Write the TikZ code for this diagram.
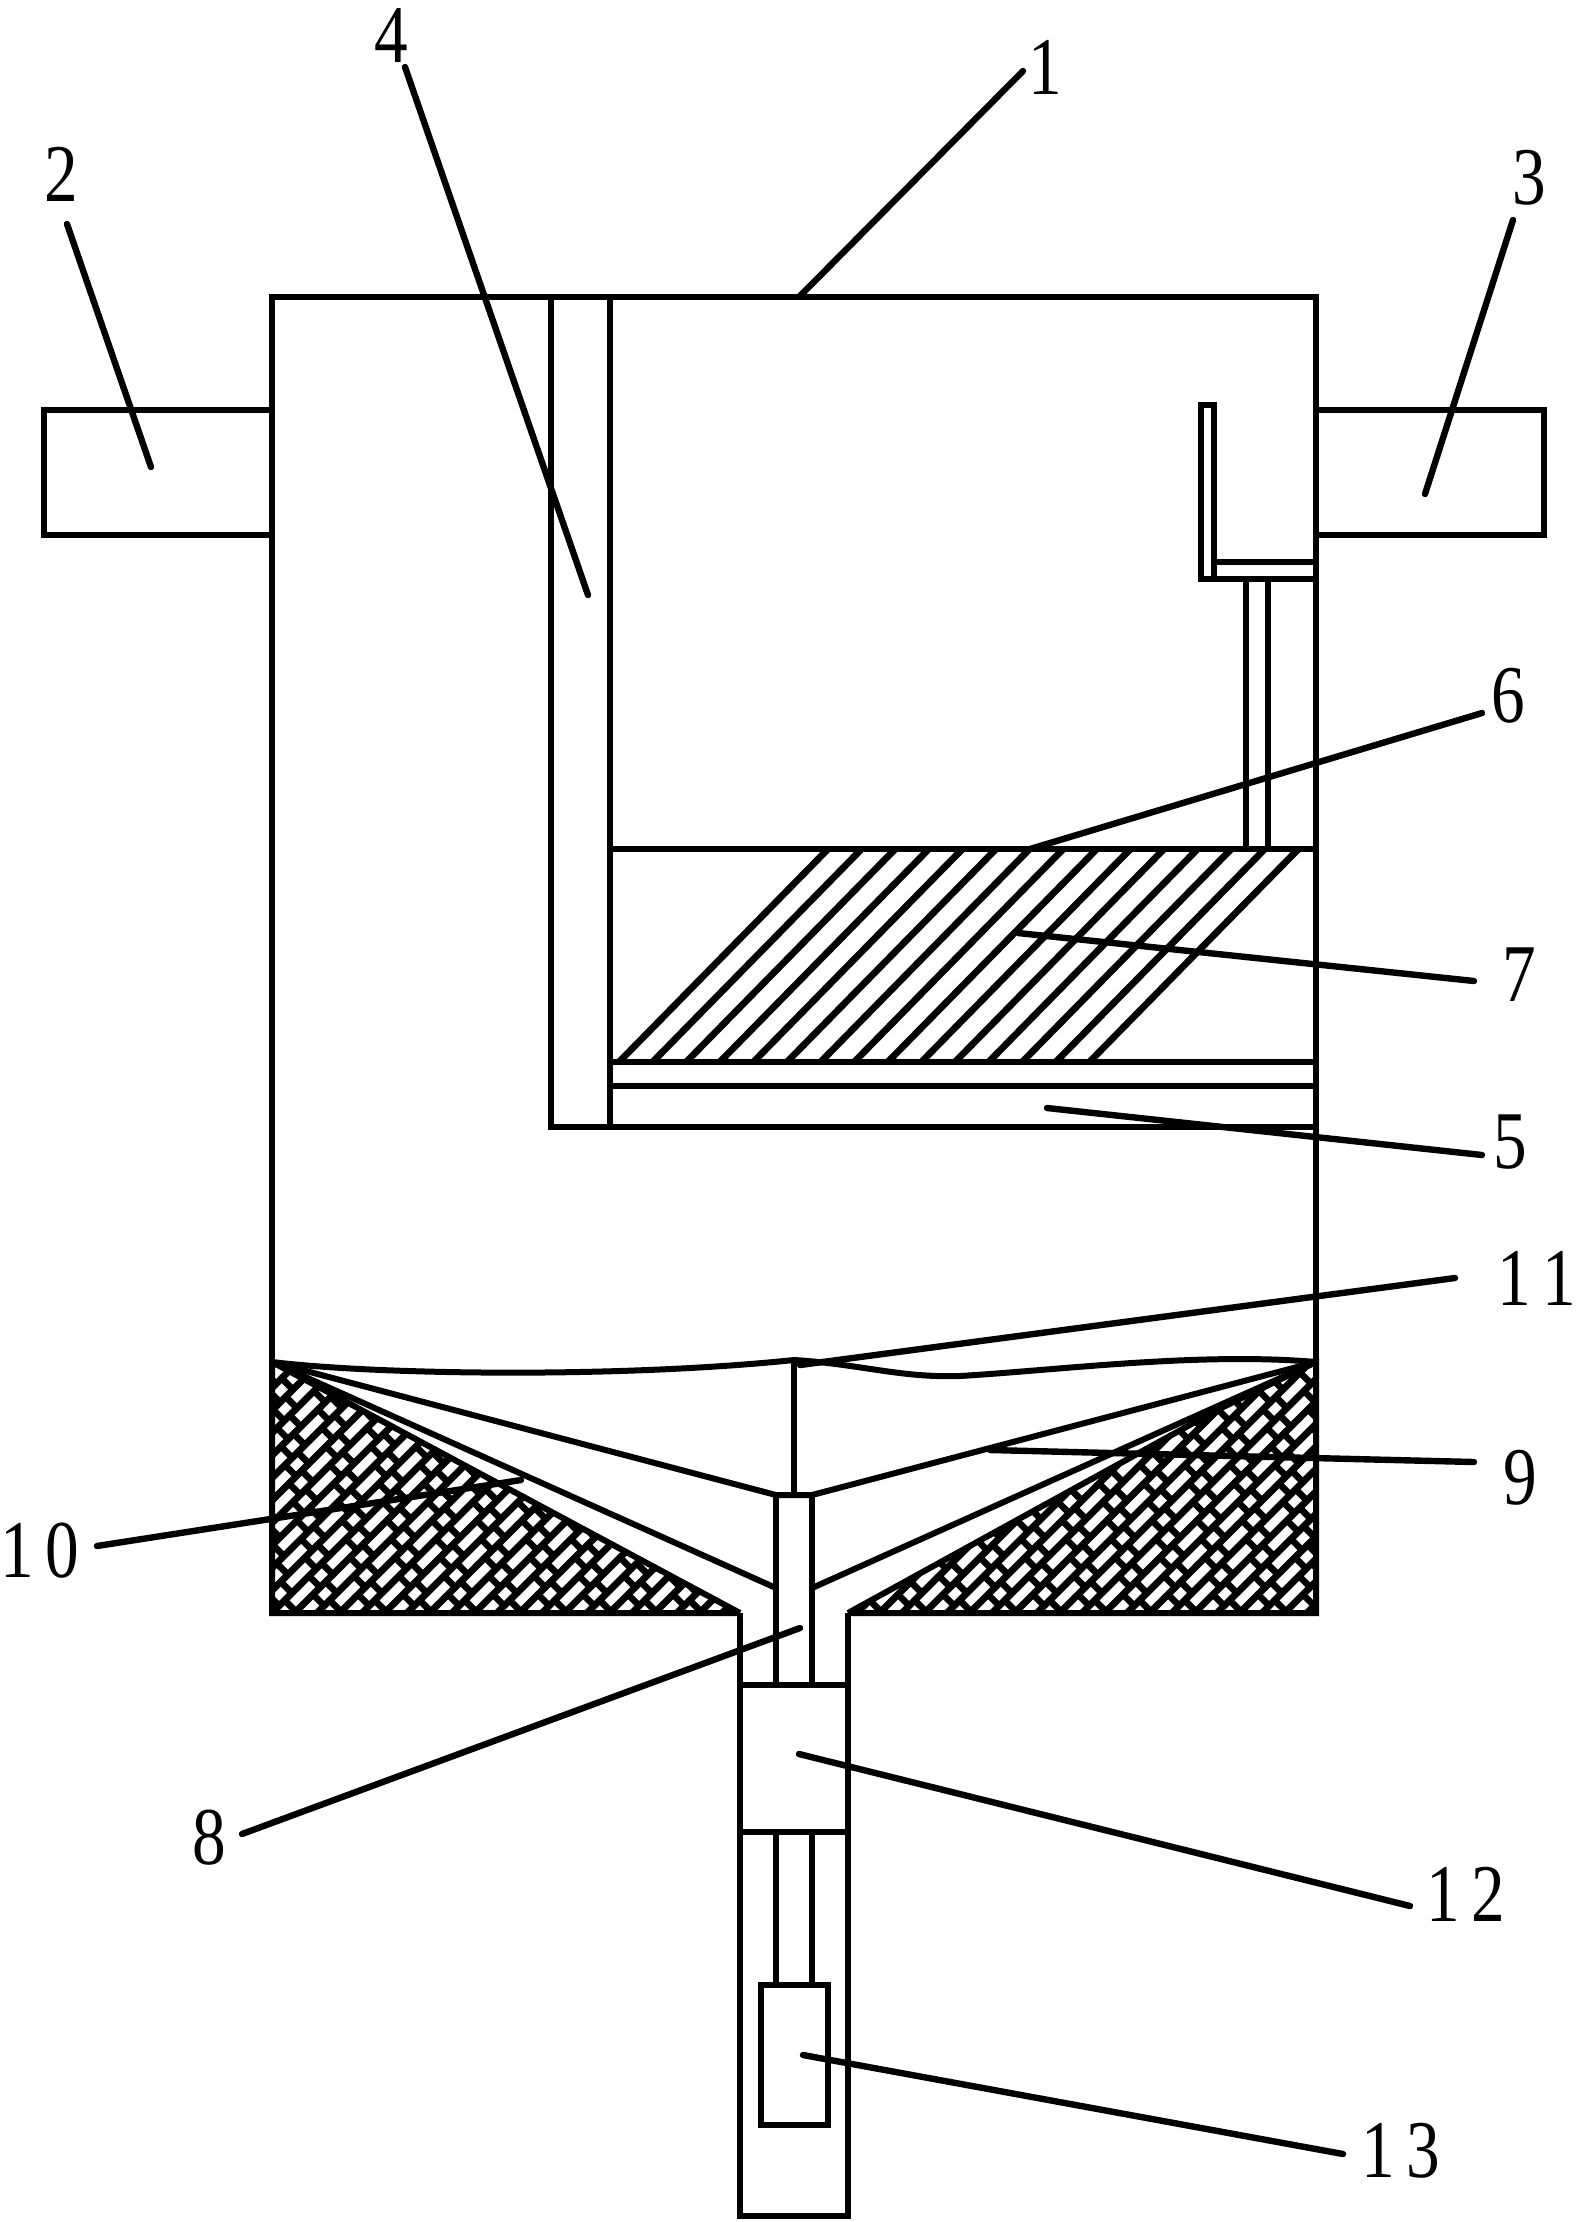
\documentclass[tikz,border=0pt]{standalone}
\usepackage{fontspec}
\setmainfont{Liberation Serif}
\tikzset{
  wall/.style={draw,line width=3pt},
  leader/.style={draw,line width=3.2pt,line cap=round},
  tag/.style={font=\fontsize{41}{41}\selectfont,inner sep=0pt,xscale=.82},
  hatchA/.style={line width=3.5pt},
  hatchB/.style={line width=3.3pt}
}
\begin{document}
\begin{tikzpicture}[x=.5pt,y=-.5pt]
  \useasboundingbox (0,0) rectangle (1577,2222);
  \coordinate (TL) at (272,297);
  \coordinate (TR) at (1316,297);
  \coordinate (FL) at (272,1362);
  \coordinate (FR) at (1316,1362);
  \coordinate (BL) at (272,1613);
  \coordinate (BR) at (1316,1613);
  \coordinate (NL) at (740,1613);
  \coordinate (NR) at (848,1613);
  \coordinate (PL) at (776,1495);
  \coordinate (PR) at (812,1495);
  \coordinate (PM) at (794,1495);
  \coordinate (ML) at (776,1588);
  \coordinate (MR) at (812,1588);
  \begin{scope}
    \clip (FL) -- (BL) -- (NL) -- cycle (FR) -- (BR) -- (NR) -- (1133,1457) -- (1217,1410) -- cycle;
    \foreach \k in {-12,...,47} {
      \pgfmathsetmacro{\xk}{272+22.5*\k}
      \draw[hatchA] (\xk,1613) -- ++(270,-270);
      \pgfmathsetmacro{\off}{18.5*mod(\k+12,2)}
      \foreach \j in {0,...,7} {
        \pgfmathsetmacro{\tt}{37*\j+\off}
        \draw[hatchB] (\xk+\tt,1613-\tt) -- ++(11.25,11.25);
        \draw[hatchB] (\xk+\tt+12.7,1613-\tt-12.7) -- ++(11.25,11.25);
      }
    }
  \end{scope}
  \draw[wall,line join=miter] (NL) -- (FL) -- (BL) -- (NL);
  \draw[wall,line join=miter] (NR) -- (1217,1410) -- (FR) -- (BR) -- (NR);
  \draw[wall] (BL) -- (TL) -- (TR) -- (BR);
  \draw[wall] (44,410) rectangle (272,535);
  \draw[wall] (1316,410) rectangle (1544,535);
  \draw[wall] (551,297) -- (551,1127) -- (1316,1127);
  \draw[wall] (610,297) -- (610,1127);
  \draw[wall] (610,849) -- (1316,849);
  \draw[wall] (610,1062) -- (1316,1062);
  \draw[wall] (610,1086) -- (1316,1086);
  \foreach \i in {0,...,14} {
    \draw[line width=3.4pt] (619+33.6*\i,1062) -- (828+33.6*\i,849);
  }
  \draw[wall] (1214,562) -- (1316,562);
  \draw[wall] (1214,579) -- (1214,405) -- (1201,405) -- (1201,579) -- (1316,579);
  \draw[wall] (1246,579) -- (1246,849);
  \draw[wall] (1268,579) -- (1268,849);
  \draw[wall] (FL) .. controls (380,1375) and (620,1378) .. (794,1360) .. controls (860,1364) and (900,1378) .. (960,1376) .. controls (1060,1370) and (1200,1352) .. (FR);
  \draw[wall] (794,1360) -- (PM);
  \draw[wall] (FL) -- (PL) -- (PR) -- (FR);
  \draw[wall] (FL) -- (ML);
  \draw[wall] (FR) -- (MR);
  \draw[wall] (PL) -- (776,1685);
  \draw[wall] (PR) -- (812,1685);
  \draw[wall] (NL) -- (740,2216) -- (848,2216) -- (NR);
  \draw[wall] (740,1685) -- (848,1685);
  \draw[wall] (740,1832) -- (848,1832);
  \draw[wall] (776,1832) -- (776,1985);
  \draw[wall] (812,1832) -- (812,1985);
  \draw[wall] (761,1985) rectangle (828,2125);
  \node[tag] (n1) at (1045,67) {1};
  \node[tag] (n2) at (61,174) {2};
  \node[tag] (n3) at (1529,178) {3};
  \node[tag] (n4) at (391,36) {4};
  \node[tag] (n5) at (1510,1142) {5};
  \node[tag] (n6) at (1508,696) {6};
  \node[tag] (n7) at (1519,975) {7};
  \node[tag] (n8) at (209,1838) {8};
  \node[tag] (n9) at (1520,1478) {9};
  \node[tag] (n10) at (40,1551) {1\kern7pt 0};
  \node[tag] (n11) at (1537,1278) {1\kern7pt 1};
  \node[tag] (n12) at (1466,1894) {1\kern7pt 2};
  \node[tag] (n13) at (1401,2151) {1\kern7pt 3};
  \draw[leader] (800,296) -- (1023,71);
  \draw[leader] (151,467) -- (67,224);
  \draw[leader] (1425,494) -- (1513,220);
  \draw[leader] (588,595) -- (405,67);
  \draw[leader] (1047,1108) -- (1482,1155);
  \draw[leader] (1030,849) -- (1482,713);
  \draw[leader] (1018,933) -- (1474,981);
  \draw[leader] (800,1628) -- (242,1834);
  \draw[leader] (990,1450) -- (1474,1462);
  \draw[leader] (97,1546) -- (521,1480);
  \draw[leader] (800,1365) -- (1455,1278);
  \draw[leader] (799,1754) -- (1410,1906);
  \draw[leader] (803,2055) -- (1343,2154);
\end{tikzpicture}
\end{document}
